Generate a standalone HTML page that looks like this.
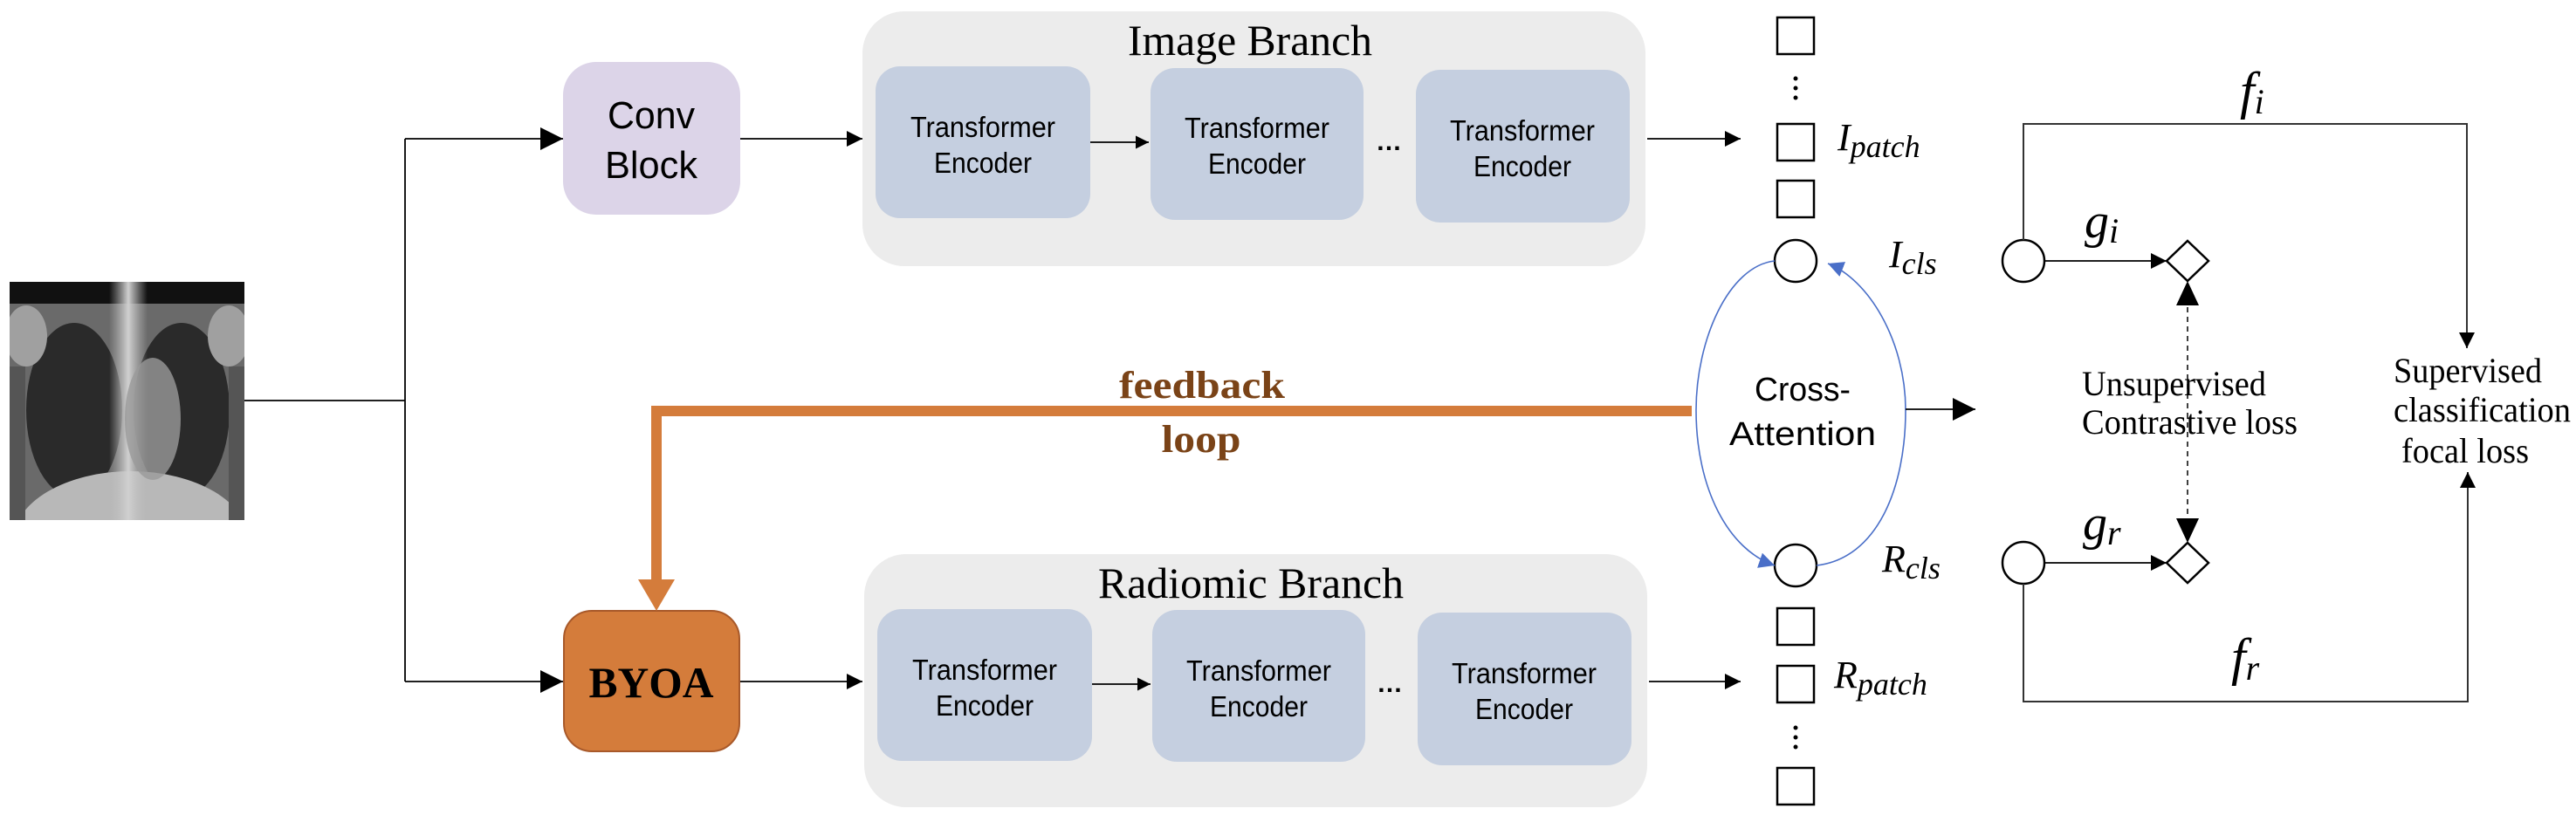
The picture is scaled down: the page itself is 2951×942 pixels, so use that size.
<!DOCTYPE html>
<html><head><meta charset="utf-8"><style>html,body{margin:0;padding:0;background:#fff}svg{display:block}</style></head>
<body>
<svg width="2951" height="942" viewBox="0 0 2951 942" xmlns="http://www.w3.org/2000/svg">
<defs>
<marker id="ah" viewBox="0 0 10 10" refX="10" refY="5" markerWidth="15" markerHeight="15" markerUnits="userSpaceOnUse" orient="auto"><path d="M0,0L10,5L0,10z" fill="#000"/></marker>
<marker id="ahb" viewBox="0 0 10 10" refX="10" refY="5" markerWidth="18" markerHeight="18" markerUnits="userSpaceOnUse" orient="auto"><path d="M0,0L10,5L0,10z" fill="#000"/></marker>
<marker id="ahs" viewBox="0 0 10 10" refX="10" refY="5" markerWidth="26" markerHeight="26" markerUnits="userSpaceOnUse" orient="auto"><path d="M0,0L10,5L0,10z" fill="#000"/></marker>
<marker id="ahblue" viewBox="0 0 10 10" refX="10" refY="5" markerWidth="18" markerHeight="18" markerUnits="userSpaceOnUse" orient="auto"><path d="M0,0L10,5L0,10z" fill="#4a6fc8"/></marker>
<linearGradient id="spine" x1="0" x2="1"><stop offset="0" stop-color="#bbb" stop-opacity="0"/><stop offset="0.5" stop-color="#d0d0d0"/><stop offset="1" stop-color="#bbb" stop-opacity="0"/></linearGradient>
<clipPath id="xc"><rect x="11" y="323" width="269" height="273"/></clipPath>
</defs>

<!-- X-ray -->
<g clip-path="url(#xc)">
<rect x="11" y="323" width="269" height="273" fill="#6a6a6a"/>
<rect x="11" y="323" width="269" height="25" fill="#111"/>
<ellipse cx="85" cy="470" rx="55" ry="100" fill="#2a2a2a"/>
<ellipse cx="208" cy="470" rx="55" ry="100" fill="#2a2a2a"/>
<ellipse cx="150" cy="620" rx="135" ry="80" fill="#b8b8b8"/>
<rect x="125" y="323" width="44" height="273" fill="url(#spine)"/>
<ellipse cx="175" cy="480" rx="32" ry="70" fill="#9a9a9a" opacity="0.8"/>
<ellipse cx="30" cy="385" rx="24" ry="35" fill="#a0a0a0"/>
<ellipse cx="262" cy="385" rx="24" ry="35" fill="#a0a0a0"/>
<rect x="11" y="420" width="18" height="176" fill="#555"/>
<rect x="262" y="420" width="18" height="176" fill="#555"/>
</g>

<!-- connectors from xray -->
<polyline points="280,459 464,459" fill="none" stroke="#000" stroke-width="1.8"/>
<polyline points="464,159 464,781" fill="none" stroke="#000" stroke-width="1.8"/>
<line x1="464" y1="159" x2="645" y2="159" stroke="#000" stroke-width="1.8" marker-end="url(#ahs)"/>
<line x1="464" y1="781" x2="645" y2="781" stroke="#000" stroke-width="1.8" marker-end="url(#ahs)"/>

<!-- Conv block -->
<rect x="645" y="71" width="203" height="175" rx="38" fill="#dcd4e8"/>
<text x="746" y="147" font-family="Liberation Sans, sans-serif" font-size="44" text-anchor="middle" textLength="100" lengthAdjust="spacingAndGlyphs">Conv</text>
<text x="746" y="204" font-family="Liberation Sans, sans-serif" font-size="44" text-anchor="middle" textLength="106" lengthAdjust="spacingAndGlyphs">Block</text>

<!-- BYOA -->
<rect x="646" y="700" width="201" height="161" rx="32" fill="#d47c3b" stroke="#a8592a" stroke-width="2"/>
<text x="746" y="799" font-family="Liberation Serif, serif" font-weight="bold" font-size="50" text-anchor="middle" textLength="143" lengthAdjust="spacingAndGlyphs">BYOA</text>

<line x1="848" y1="159" x2="988" y2="159" stroke="#000" stroke-width="1.8" marker-end="url(#ahb)"/>
<line x1="848" y1="781" x2="988" y2="781" stroke="#000" stroke-width="1.8" marker-end="url(#ahb)"/>

<!-- Branch panels -->
<rect x="988" y="13" width="897" height="292" rx="48" fill="#ececec"/>
<rect x="990" y="635" width="897" height="290" rx="48" fill="#ececec"/>
<text x="1432" y="63" font-family="Liberation Serif, serif" font-size="50" text-anchor="middle" textLength="280" lengthAdjust="spacingAndGlyphs">Image Branch</text>
<text x="1433" y="685" font-family="Liberation Serif, serif" font-size="50" text-anchor="middle" textLength="350" lengthAdjust="spacingAndGlyphs">Radiomic Branch</text>

<g font-family="Liberation Sans, sans-serif" font-size="33" text-anchor="middle">
<rect x="1003" y="76" width="246" height="174" rx="28" fill="#c5cfe0"/>
<rect x="1318" y="78" width="244" height="174" rx="28" fill="#c5cfe0"/>
<rect x="1622" y="80" width="245" height="175" rx="28" fill="#c5cfe0"/>
<text x="1126" y="157" textLength="166" lengthAdjust="spacingAndGlyphs">Transformer</text>
<text x="1126" y="198" textLength="112" lengthAdjust="spacingAndGlyphs">Encoder</text>
<text x="1440" y="158" textLength="166" lengthAdjust="spacingAndGlyphs">Transformer</text>
<text x="1440" y="199" textLength="112" lengthAdjust="spacingAndGlyphs">Encoder</text>
<text x="1744" y="161" textLength="166" lengthAdjust="spacingAndGlyphs">Transformer</text>
<text x="1744" y="202" textLength="112" lengthAdjust="spacingAndGlyphs">Encoder</text>

<rect x="1005" y="698" width="246" height="174" rx="28" fill="#c5cfe0"/>
<rect x="1320" y="699" width="244" height="174" rx="28" fill="#c5cfe0"/>
<rect x="1624" y="702" width="245" height="175" rx="28" fill="#c5cfe0"/>
<text x="1128" y="779" textLength="166" lengthAdjust="spacingAndGlyphs">Transformer</text>
<text x="1128" y="820" textLength="112" lengthAdjust="spacingAndGlyphs">Encoder</text>
<text x="1442" y="780" textLength="166" lengthAdjust="spacingAndGlyphs">Transformer</text>
<text x="1442" y="821" textLength="112" lengthAdjust="spacingAndGlyphs">Encoder</text>
<text x="1746" y="783" textLength="166" lengthAdjust="spacingAndGlyphs">Transformer</text>
<text x="1746" y="824" textLength="112" lengthAdjust="spacingAndGlyphs">Encoder</text>
</g>
<line x1="1249" y1="163" x2="1316" y2="163" stroke="#000" stroke-width="1.8" marker-end="url(#ah)"/>
<line x1="1251" y1="784" x2="1318" y2="784" stroke="#000" stroke-width="1.8" marker-end="url(#ah)"/>
<text x="1591" y="172" font-family="Liberation Sans, sans-serif" font-size="30" font-weight="bold" text-anchor="middle">…</text>
<text x="1592" y="793" font-family="Liberation Sans, sans-serif" font-size="30" font-weight="bold" text-anchor="middle">…</text>

<line x1="1887" y1="159" x2="1994" y2="159" stroke="#000" stroke-width="1.8" marker-end="url(#ahb)"/>
<line x1="1889" y1="781" x2="1994" y2="781" stroke="#000" stroke-width="1.8" marker-end="url(#ahb)"/>

<!-- feedback loop -->
<polyline points="1938,471 752,471 752,666" fill="none" stroke="#d47c3b" stroke-width="12"/>
<path d="M731,664 L773,664 L752,700 z" fill="#d47c3b"/>
<text x="1377" y="456" font-family="Liberation Serif, serif" font-weight="bold" font-size="44" fill="#7a4317" text-anchor="middle" textLength="190" lengthAdjust="spacingAndGlyphs">feedback</text>
<text x="1376" y="518" font-family="Liberation Serif, serif" font-weight="bold" font-size="44" fill="#7a4317" text-anchor="middle" textLength="91" lengthAdjust="spacingAndGlyphs">loop</text>

<!-- token squares -->
<g fill="#fff" stroke="#000" stroke-width="2.5">
<rect x="2036" y="20" width="42" height="42"/>
<rect x="2036" y="142" width="42" height="42"/>
<rect x="2036" y="207" width="42" height="42"/>
<rect x="2036" y="697" width="42" height="42"/>
<rect x="2036" y="763" width="42" height="42"/>
<rect x="2036" y="880" width="42" height="42"/>
<circle cx="2057" cy="299" r="24"/>
<circle cx="2057" cy="648" r="24"/>
<circle cx="2318" cy="299" r="24"/>
<circle cx="2318" cy="645" r="24"/>
<path d="M2506,276 L2530,299 L2506,322 L2482,299 z"/>
<path d="M2506,622 L2530,645 L2506,668 L2482,645 z"/>
</g>
<g fill="#000">
<circle cx="2057" cy="90" r="2.5"/><circle cx="2057" cy="101" r="2.5"/><circle cx="2057" cy="112" r="2.5"/>
<circle cx="2057" cy="834" r="2.5"/><circle cx="2057" cy="845" r="2.5"/><circle cx="2057" cy="856" r="2.5"/>
</g>

<!-- cross-attention arcs -->
<path d="M2081,648 C2150,640 2183,560 2183,470 C2183,390 2140,320 2094,302" fill="none" stroke="#4a6fc8" stroke-width="1.6" marker-end="url(#ahblue)"/>
<path d="M2033,299 C1980,305 1943,390 1943,470 C1943,560 1980,630 2033,648" fill="none" stroke="#4a6fc8" stroke-width="1.6" marker-end="url(#ahblue)"/>
<text x="2065" y="459" font-family="Liberation Sans, sans-serif" font-size="38" text-anchor="middle" textLength="110" lengthAdjust="spacingAndGlyphs">Cross-</text>
<text x="2065" y="510" font-family="Liberation Sans, sans-serif" font-size="38" text-anchor="middle" textLength="168" lengthAdjust="spacingAndGlyphs">Attention</text>
<line x1="2183" y1="469" x2="2263" y2="469" stroke="#000" stroke-width="1.8" marker-end="url(#ahs)"/>

<!-- math labels -->
<g font-family="Liberation Serif, serif" font-style="italic">
<text x="2105" y="172" font-size="44">I<tspan font-size="36" dy="8">patch</tspan></text>
<text x="2164" y="306" font-size="44">I<tspan font-size="36" dy="8">cls</tspan></text>
<text x="2156" y="655" font-size="44">R<tspan font-size="36" dy="8">cls</tspan></text>
<text x="2101" y="788" font-size="44">R<tspan font-size="36" dy="8">patch</tspan></text>
<text x="2388" y="272" font-size="56">g<tspan font-size="40" dy="6">i</tspan></text>
<text x="2386" y="618" font-size="56">g<tspan font-size="40" dy="6">r</tspan></text>
<text x="2566" y="124" font-size="60">f<tspan font-size="40" dy="6">i</tspan></text>
<text x="2556" y="773" font-size="60">f<tspan font-size="40" dy="6">r</tspan></text>
</g>

<!-- right connectors -->
<line x1="2342" y1="299" x2="2482" y2="299" stroke="#000" stroke-width="1.8" marker-end="url(#ahb)"/>
<line x1="2342" y1="645" x2="2482" y2="645" stroke="#000" stroke-width="1.8" marker-end="url(#ahb)"/>
<line x1="2506" y1="352" x2="2506" y2="592" stroke="#000" stroke-width="1.5" stroke-dasharray="6,5"/>
<path d="M2506,322 L2519,350 L2493,350 z" fill="#000"/>
<path d="M2506,622 L2519,594 L2493,594 z" fill="#000"/>
<polyline points="2318,275 2318,142 2826,142 2826,399" fill="none" stroke="#333" stroke-width="2" marker-end="url(#ahb)"/>
<polyline points="2318,669 2318,804 2827,804 2827,541" fill="none" stroke="#333" stroke-width="2" marker-end="url(#ahb)"/>

<g font-family="Liberation Serif, serif" font-size="40">
<text x="2385" y="453" textLength="211" lengthAdjust="spacingAndGlyphs">Unsupervised</text>
<text x="2385" y="497" textLength="247" lengthAdjust="spacingAndGlyphs">Contrastive loss</text>
<text x="2742" y="438" textLength="170" lengthAdjust="spacingAndGlyphs">Supervised</text>
<text x="2742" y="483" textLength="203" lengthAdjust="spacingAndGlyphs">classification</text>
<text x="2751" y="530" textLength="146" lengthAdjust="spacingAndGlyphs">focal loss</text>
</g>
</svg>
</body></html>
